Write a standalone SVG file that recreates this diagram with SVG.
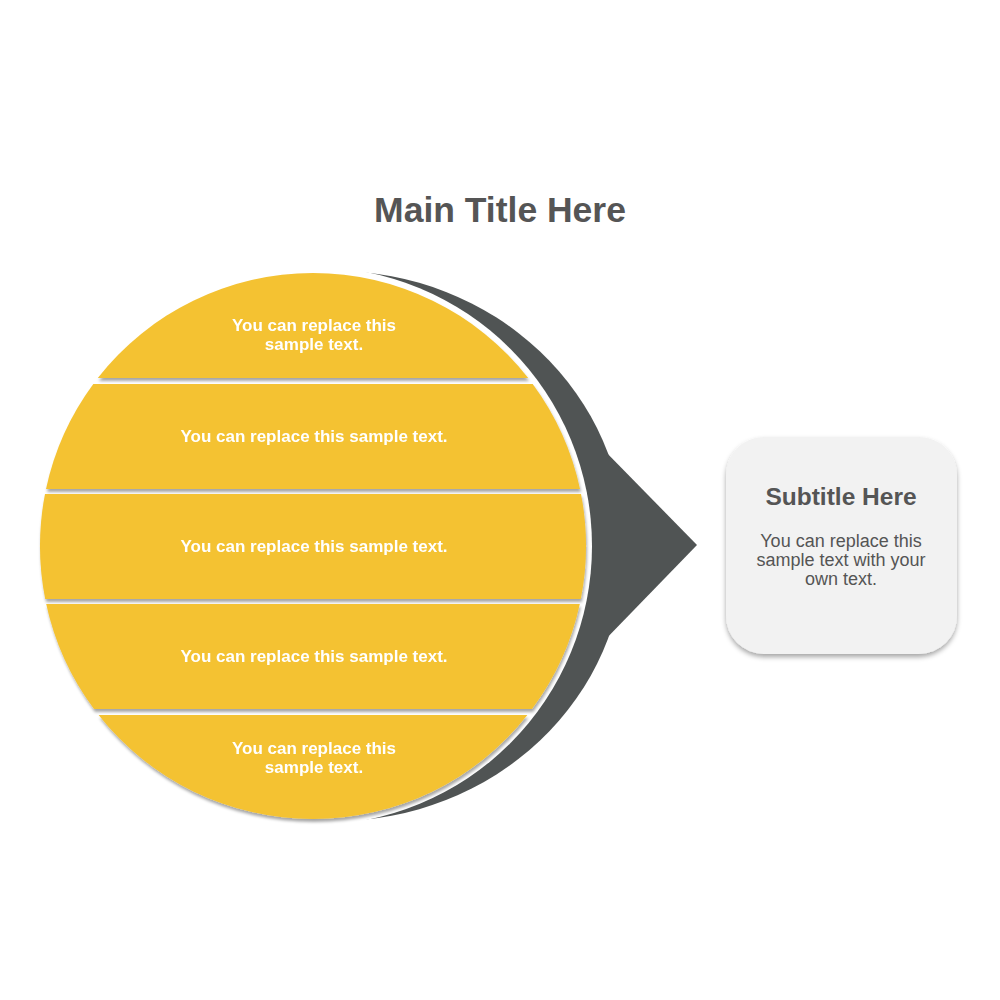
<svg xmlns="http://www.w3.org/2000/svg" width="1000" height="1000" viewBox="0 0 1000 1000">
<defs>
<style>
.band{fill:#F4C232;}
.bt{font-family:"Liberation Sans",Arial,sans-serif;font-weight:bold;font-size:17px;fill:#FFFFFF;text-anchor:middle;}
.title{font-family:"Liberation Sans",Arial,sans-serif;font-weight:bold;font-size:35.5px;fill:#555555;text-anchor:middle;}
.sub{font-family:"Liberation Sans",Arial,sans-serif;font-weight:bold;font-size:24.5px;fill:#555555;text-anchor:middle;}
.body{font-family:"Liberation Sans",Arial,sans-serif;font-size:18px;fill:#555555;text-anchor:middle;}
.dark{fill:#505454;}
</style>
<filter id="sh" x="-10%" y="-10%" width="120%" height="130%">
<feDropShadow dx="1" dy="3" stdDeviation="1.5" flood-color="#000000" flood-opacity="0.35"/>
</filter>
<filter id="bsh" x="-10%" y="-10%" width="120%" height="120%">
<feDropShadow dx="0" dy="3" stdDeviation="2.5" flood-color="#000000" flood-opacity="0.35"/>
</filter>
</defs>
<rect width="1000" height="1000" fill="#FFFFFF"/>
<g id="title"><text class="title" x="500" y="222">Main Title Here</text></g>
<g id="pointer">
<ellipse class="dark" cx="335" cy="546" rx="290" ry="275"/>
<polygon class="dark" points="600,446 697,545 600,645"/>
</g>
<g id="ring"><circle cx="313" cy="546" r="279" fill="#FFFFFF"/></g>
<g id="band1" filter="url(#sh)">
<path class="band" d="M97.8 378 A273 273 0 0 1 528.2 378 Z"/>
<text class="bt" x="314" y="331">You can replace this</text>
<text class="bt" x="314" y="350">sample text.</text>
</g>
<g id="band2" filter="url(#sh)">
<path class="band" d="M93.3 384 L532.7 384 A273 273 0 0 1 580 489 L46 489 A273 273 0 0 1 93.3 384 Z"/>
<text class="bt" x="314" y="442">You can replace this sample text.</text>
</g>
<g id="band3" filter="url(#sh)">
<path class="band" d="M45 494 L581 494 A273 273 0 0 1 580.8 599 L45.2 599 A273 273 0 0 1 45 494 Z"/>
<text class="bt" x="314" y="552">You can replace this sample text.</text>
</g>
<g id="band4" filter="url(#sh)">
<path class="band" d="M46.2 604 L579.8 604 A273 273 0 0 1 532 709 L94 709 A273 273 0 0 1 46.2 604 Z"/>
<text class="bt" x="314" y="662">You can replace this sample text.</text>
</g>
<g id="band5" filter="url(#sh)">
<path class="band" d="M98.6 715 L527.4 715 A273 273 0 0 1 98.6 715 Z"/>
<text class="bt" x="314" y="754">You can replace this</text>
<text class="bt" x="314" y="773">sample text.</text>
</g>
<g id="subtitle-box">
<rect x="726" y="437" width="231" height="217" rx="38" fill="#F2F2F2" filter="url(#bsh)"/>
<text class="sub" x="841" y="505">Subtitle Here</text>
<text class="body" x="841" y="547">You can replace this</text>
<text class="body" x="841" y="566">sample text with your</text>
<text class="body" x="841" y="585">own text.</text>
</g>
<g id="connectors"/>
</svg>
